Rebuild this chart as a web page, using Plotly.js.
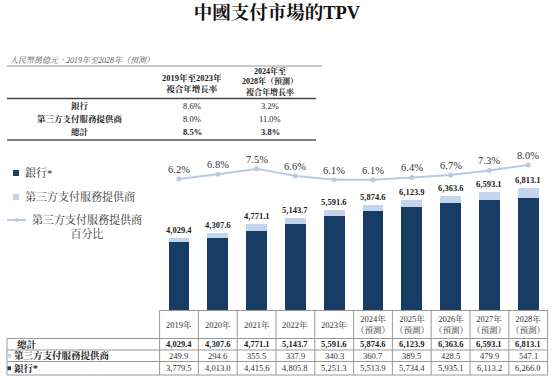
<!DOCTYPE html>
<html>
<head>
<meta charset="utf-8">
<script src="https://cdn.plot.ly/plotly-3.0.1.min.js"></script>
<style>html,body{margin:0;padding:0;background:#fff;}#chart{width:553px;height:382px;}</style>
</head>
<body>
<div id="chart"></div>
<script>
// ---- data ----
var years = ["2019年","2020年","2021年","2022年","2023年","2024年<br>（預測）","2025年<br>（預測）","2026年<br>（預測）","2027年<br>（預測）","2028年<br>（預測）"];
var total = [4029.4, 4307.6, 4771.1, 5143.7, 5591.6, 5874.6, 6123.9, 6363.6, 6593.1, 6813.1];
var thirdParty = [249.9, 294.6, 355.5, 337.9, 340.3, 360.7, 389.5, 428.5, 479.9, 547.1];
var bank = [3779.5, 4013.0, 4415.6, 4805.8, 5251.3, 5513.9, 5734.4, 5935.1, 6113.2, 6266.0];
var sharePct = [6.2, 6.8, 7.5, 6.6, 6.1, 6.1, 6.4, 6.7, 7.3, 8.0];

var cagrHeaders = ["2019年至2023年<br>複合年增長率", "2024年至<br>2028年（預測）<br>複合年增長率"];
var cagrRows = ["銀行", "第三方支付服務提供商", "總計"];
var cagr1923 = ["8.6%", "8.0%", "8.5%"];
var cagr2428 = ["3.2%", "11.0%", "3.8%"];

var rowLabels = ["總計", "第三方支付服務提供商", "銀行*"];
var legendLabels = ["銀行*", "第三方支付服務提供商", "第三方支付服務提供商<br>百分比"];
var titleText = "中國支付市場的TPV";
var unitText = "人民幣萬億元，2019年至2028年（預測）";

// ---- styles ----
var W = 553, H = 382;
var DARK = "#173d66", LIGHT = "#c4d4ea", LINEC = "#b8cae2";
var FONT = "'Liberation Serif', 'Noto Serif CJK TC', 'Noto Sans CJK TC', serif";
function px(x){ return x / W; }
function py(y){ return 1 - y / H; }
var XR = [-4.613, 9.639];
function catPx(i){ return W * (i - XR[0]) / (XR[1] - XR[0]); }
function fmt(v){ return v.toLocaleString('en-US', {minimumFractionDigits:1, maximumFractionDigits:1}); }

var ann = [], shapes = [];
function txt(x, y, t, o){
  o = o || {};
  ann.push({xref: o.xref || 'paper', yref: o.yref || 'paper', x: x, y: y, text: t, showarrow: false,
    xanchor: o.xa || 'center', yanchor: o.ya || 'middle', yshift: o.ys || 0,
    font: {family: FONT, size: o.size || 9, color: o.color || '#222'}});
}
function hline(x0, x1, y, c, w){ shapes.push({type:'line', xref:'paper', yref:'paper', x0:px(x0), x1:px(x1), y0:py(y), y1:py(y), line:{color:c, width:w}}); }
function vline(x, y0, y1, c, w){ shapes.push({type:'line', xref:'paper', yref:'paper', x0:px(x), x1:px(x), y0:py(y0), y1:py(y1), line:{color:c, width:w}}); }
function rect(x0, y0, x1, y1, c){ shapes.push({type:'rect', xref:'paper', yref:'paper', x0:px(x0), x1:px(x1), y0:py(y0), y1:py(y1), fillcolor:c, line:{width:0}}); }

// subtitle
txt(px(8), py(60), "<i>" + unitText + "</i>", {xa:'left', size:8, color:'#555'});

// top CAGR table
hline(7, 322, 66, '#999', 1.2);
hline(7, 316, 98.5, '#444', 1.5);
hline(7, 316, 140, '#555', 1.5);
txt(px(192), py(83), "<b>" + cagrHeaders[0] + "</b>", {size:8.5});
txt(px(270), py(81.5), "<b>" + cagrHeaders[1] + "</b>", {size:8});
var rowY = [106, 119, 132];
for (var r = 0; r < cagrRows.length; r++) {
  var b = r === 2;
  txt(px(80), py(rowY[r]), "<b>" + cagrRows[r] + "</b>", {size:8.5});
  txt(px(192), py(rowY[r]), b ? "<b>" + cagr1923[r] + "</b>" : cagr1923[r], {size:8.5});
  txt(px(270), py(rowY[r]), b ? "<b>" + cagr2428[r] + "</b>" : cagr2428[r], {size:8.5});
}

// legend
rect(13, 170, 19, 176, DARK);
txt(px(23), py(173), legendLabels[0], {xa:'left', size:11, color:'#333'});
rect(13, 194, 19, 200, LIGHT);
txt(px(23), py(197), legendLabels[1], {xa:'left', size:11, color:'#333'});
hline(7, 26, 220, LINEC, 2);
shapes.push({type:'circle', xref:'paper', yref:'paper', x0:px(15), x1:px(19), y0:py(218), y1:py(222), fillcolor:LINEC, line:{width:0}});
txt(px(30), py(226.5), legendLabels[2], {xa:'left', size:11, color:'#333'});

// bar total labels and percent labels
for (var i = 0; i < years.length; i++) {
  txt(years[i], total[i], "<b>" + fmt(total[i]) + "</b>", {xref:'x', yref:'y', ya:'bottom', ys:1, size:8.5, color:'#222'});
  txt(years[i], sharePct[i], sharePct[i].toFixed(1) + "%", {xref:'x', yref:'y2', ya:'bottom', ys:2, size:10.5, color:'#333'});
}

// bottom data table
var tL = 7, tR = catPx(9.5), tC = catPx(-0.5);
var hTop = 310.5, hB = 338.5, r1 = 350, r2 = 361.5, r3 = 375;
shapes.push({type:'line', xref:'paper', yref:'paper', x0:px(tC), x1:px(tR), y0:py(hTop), y1:py(hTop), line:{color:'#999', width:1}});
[hB, r1, r2, r3].forEach(function(y){ hline(tL, tR, y, '#999', 1); });
vline(tL, hB, r3, '#999', 1);
for (var k = 0; k <= years.length; k++) { vline(catPx(k - 0.5), hTop, r3, '#999', 1); }
var ry = [(hB + r1) / 2, (r1 + r2) / 2, (r2 + r3) / 2];
for (var i = 0; i < years.length; i++) {
  txt(px(catPx(i)), py((hTop + hB) / 2), years[i], {size:8.5, color:'#333'});
  txt(px(catPx(i)), py(ry[0]), "<b>" + fmt(total[i]) + "</b>", {size:8.5});
  txt(px(catPx(i)), py(ry[1]), fmt(thirdParty[i]), {size:8.5, color:'#333'});
  txt(px(catPx(i)), py(ry[2]), fmt(bank[i]), {size:8.5, color:'#333'});
}
txt(px(15), py(ry[0]), "<b>" + rowLabels[0] + "</b>", {xa:'left', size:9.5});
rect(7.5, ry[1] - 2, 11, ry[1] + 2, LIGHT);
txt(px(12), py(ry[1]), "<b>" + rowLabels[1] + "</b>", {xa:'left', size:9.5});
rect(7.5, ry[2] - 2, 11, ry[2] + 2, DARK);
txt(px(12), py(ry[2]), "<b>" + rowLabels[2] + "</b>", {xa:'left', size:9.5});

var traces = [
  {type:'bar', name:'銀行*', x:years, y:bank, marker:{color:DARK}, width:0.54, hoverinfo:'skip'},
  {type:'bar', name:'第三方支付服務提供商', x:years, y:thirdParty, marker:{color:LIGHT}, width:0.54, hoverinfo:'skip'},
  {type:'scatter', mode:'lines+markers', name:'第三方支付服務提供商百分比', x:years, y:sharePct, yaxis:'y2',
   line:{color:LINEC, width:2}, marker:{color:LINEC, size:5}, hoverinfo:'skip'}
];

var yDom = [1 - 310 / H, 1];
var layout = {
  width: W, height: H,
  margin: {l:0, r:0, t:0, b:0},
  paper_bgcolor: '#fff', plot_bgcolor: 'rgba(0,0,0,0)',
  showlegend: false,
  barmode: 'stack',
  title: {text: "<b>" + titleText + "</b>", x: px(277), xanchor: 'center', y: py(13), yanchor: 'middle', font: {family: FONT, size: 18.5, color: '#111'}},
  xaxis: {type:'category', range: XR, domain:[0,1], showticklabels:false, showgrid:false, zeroline:false, showline:false, ticks:'', fixedrange:true},
  yaxis: {range:[0, 17270], domain:yDom, showticklabels:false, showgrid:false, zeroline:false, showline:false, fixedrange:true},
  yaxis2: {range:[-10.595, 29.149], domain:yDom, overlaying:'y', showticklabels:false, showgrid:false, zeroline:false, showline:false, fixedrange:true},
  annotations: ann,
  shapes: shapes
};
Plotly.newPlot('chart', traces, layout, {staticPlot:true, displayModeBar:false});
</script>
</body>
</html>
